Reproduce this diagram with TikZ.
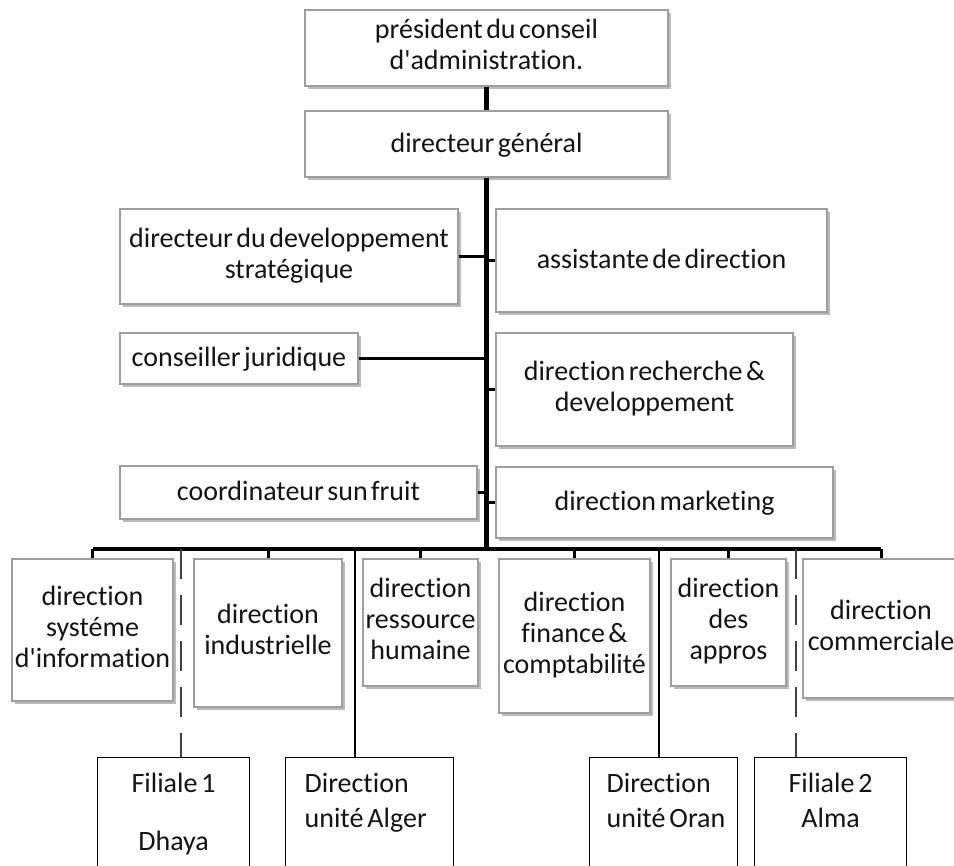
\documentclass[tikz,border=0pt]{standalone}
\usepackage{fontspec}
\setmainfont{Carlito}[Ligatures={NoCommon}, WordSpace=0.55]
\usetikzlibrary{shadows}
% zero-width strut: fixes first-line height and last-line depth
\newcommand{\linestrut}{\rule[-7pt]{0pt}{31pt}}
\newcommand{\apos}{\textquotesingle}
% fixed narrow word gap for the unit boxes
\newcommand{\wgap}{\hspace{4pt}}
\tikzset{
  labeltext/.style={font=\fontsize{28}{31}\selectfont, text=black!92},
  unitbox/.style={labeltext, align=center, inner sep=1pt,
    draw=black!38, line width=1.1pt, fill=white,
    execute at begin node=\linestrut, execute at end node=\linestrut,
    drop shadow={shadow xshift=2.5pt, shadow yshift=-3pt, fill=black!60, opacity=0.45}},
  sitebox/.style={labeltext, draw=black, line width=1.3pt, fill=white,
    anchor=north west, inner xsep=2pt, inner ysep=0pt,
    text height=35pt, text depth=100pt},
  trunk/.style={line width=5pt},
  busline/.style={line width=4pt},
  drop/.style={line width=3pt},
  stub/.style={line width=3pt},
  sitelink/.style={line width=1.6pt},
  dashlink/.style={line width=2pt, black!75, dash pattern=on 30pt off 16pt},
}
\begin{document}
\begin{tikzpicture}[x=1pt, y=-1pt]
\useasboundingbox (0,0) rectangle (954,866);

% top of the hierarchy
\node[unitbox, minimum width=363pt, minimum height=76pt] (pres) at (486.5,48)
  {président du conseil\\d\apos administration.};
\node[unitbox, minimum width=363pt, minimum height=66pt] (dg) at (486.5,144)
  {directeur général};

% staff positions beside the trunk
\node[unitbox, minimum width=338pt, minimum height=95pt] (dev) at (289,256.5)
  {directeur du developpement\\stratégique};
\node[unitbox, minimum width=331pt, minimum height=103pt] (asst) at (661.5,260.5)
  {assistante de direction};
\node[unitbox, minimum width=238pt, minimum height=51pt] (jur) at (239,358.5)
  {conseiller juridique};
\node[unitbox, minimum width=297pt, minimum height=113pt] (rd) at (644.5,389.5)
  {direction recherche \&\\developpement};
\node[unitbox, minimum width=357pt, minimum height=53pt] (coord) at (298.5,492.5)
  {coordinateur sun fruit};
\node[unitbox, minimum width=337pt, minimum height=71pt] (mkt) at (664.5,502.5)
  {direction marketing};

% operational directions
\node[unitbox, minimum width=161pt, minimum height=142pt] (dsi) at (92.5,630)
  {direction\\systéme\\d\apos information};
\node[unitbox, minimum width=148pt, minimum height=148pt] (dind) at (268,633)
  {direction\\industrielle};
\node[unitbox, minimum width=115pt, minimum height=127pt] (drh) at (420.5,622.5)
  {direction\\ressource\\humaine};
\node[unitbox, minimum width=151pt, minimum height=154pt] (dfin) at (574.5,636)
  {direction\\finance \&\\comptabilité};
\node[unitbox, minimum width=115pt, minimum height=127pt] (dapp) at (728.5,622.5)
  {direction\\des\\appros};
\node[unitbox, minimum width=156pt, minimum height=139pt] (dcom) at (881,628.5)
  {direction\\commerciale};

% subsidiaries and regional units
\node[sitebox, text width=148pt, align=center] (f1) at (97,757)
  {Filiale\wgap 1\\[27pt]Dhaya};
\node[sitebox, text width=164pt, align=left] (alger) at (285,757)
  {\hspace*{17pt}Direction\\[4pt]\hspace*{17pt}unité\wgap Alger};
\node[sitebox, text width=144pt, align=left] (oran) at (589,757)
  {\hspace*{15pt}Direction\\[4pt]\hspace*{15pt}unité\wgap Oran};
\node[sitebox, text width=148pt, align=center] (f2) at (754,757)
  {Filiale\wgap 2\\[4pt]Alma};

% trunk and bus
\coordinate (busc) at (486.5,549);
\draw[trunk] (pres.south) -- (dg.north);
\draw[trunk] (dg.south) -- (dg.south |- busc);
\draw[busline] (dsi.north |- busc) -- (dcom.north |- busc);

% side stubs
\draw[stub] (dev.east) -- (dev.east -| dg.south);
\draw[stub] (asst.west) -- (asst.west -| dg.south);
\draw[stub] (jur.east) -- (jur.east -| dg.south);
\draw[stub] (rd.west) -- (rd.west -| dg.south);
\draw[stub] (coord.east) -- (coord.east -| dg.south);
\draw[stub] (mkt.west) -- (mkt.west -| dg.south);

% drops to the directions
\foreach \n in {dsi,dind,drh,dfin,dapp,dcom}
  \draw[drop] (\n.north) -- (\n.north |- busc);

% links to the units and subsidiaries
\coordinate (algertop) at ([xshift=70pt]alger.north west);
\coordinate (orantop) at ([xshift=70pt]oran.north west);
\coordinate (f1top) at ([xshift=84pt]f1.north west);
\coordinate (f2top) at ([xshift=42pt]f2.north west);
\draw[sitelink] (algertop |- busc) -- (algertop);
\draw[sitelink] (orantop |- busc) -- (orantop);
\draw[dashlink] (f1top |- busc) -- (f1top);
\draw[dashlink] (f2top |- busc) -- (f2top);
\end{tikzpicture}
\end{document}
